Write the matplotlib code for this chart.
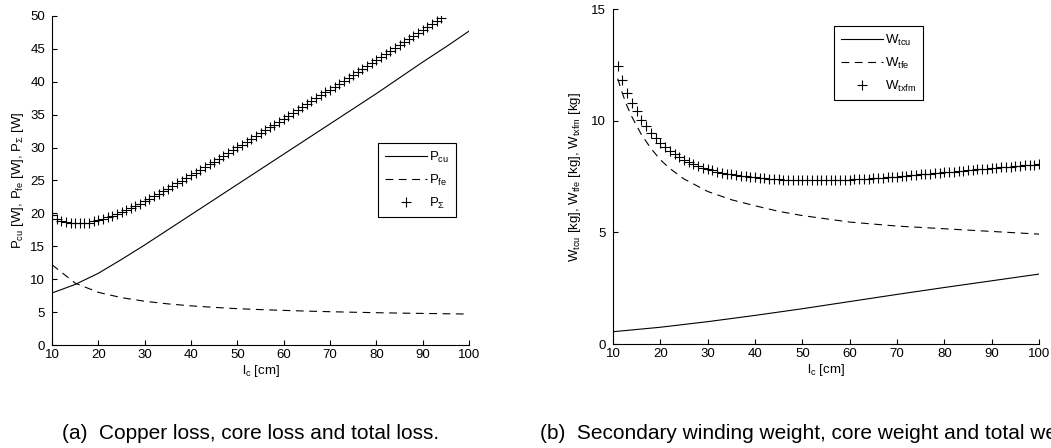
import numpy as np
import matplotlib
matplotlib.use("Agg")
import matplotlib.pyplot as plt

plt.rcParams['font.family'] = ['Liberation Sans', 'DejaVu Sans']
plt.rcParams['mathtext.fontset'] = 'custom'
plt.rcParams['mathtext.rm'] = 'Liberation Sans'
plt.rcParams['mathtext.it'] = 'Liberation Sans:italic'
plt.rcParams['mathtext.bf'] = 'Liberation Sans:bold'

# (a) losses vs core length
lc_line_a = [10, 15, 20, 25, 30, 35, 40, 45, 50, 55, 60, 65, 70, 75, 80, 85, 90, 95, 100]
p_cu = [7.9, 9.2, 10.9, 13.0, 15.2, 17.5, 19.8, 22.1, 24.4, 26.7, 29.0, 31.3,
        33.6, 35.9, 38.2, 40.6, 43.0, 45.3, 47.7]
p_fe = [12.2, 9.4, 8.0, 7.2, 6.65, 6.25, 5.95, 5.72, 5.52, 5.38, 5.26, 5.15,
        5.06, 4.98, 4.91, 4.85, 4.8, 4.75, 4.7]
lc_mark_a = list(range(10, 95))
p_sum = [19.7, 19.2, 18.9, 18.7, 18.6, 18.5, 18.5, 18.5, 18.6, 18.8,
         19.0, 19.15, 19.38, 19.63, 19.91, 20.2, 20.5, 20.83, 21.16, 21.49,
         21.85, 22.22, 22.6, 22.98, 23.38, 23.77, 24.16, 24.57, 24.97, 25.39,
         25.79, 26.2, 26.62, 27.04, 27.46, 27.88, 28.3, 28.73, 29.16, 29.59,
         30.02, 30.44, 30.88, 31.31, 31.75, 32.18, 32.62, 33.06, 33.5, 33.94,
         34.38, 34.82, 35.26, 35.7, 36.15, 36.59, 37.03, 37.48, 37.92, 38.38,
         38.82, 39.26, 39.72, 40.16, 40.62, 41.06, 41.51, 41.96, 42.41, 42.86,
         43.31, 43.76, 44.22, 44.66, 45.12, 45.57, 46.02, 46.48, 46.93, 47.39,
         47.84, 48.29, 48.75, 49.2, 49.66]

# (b) weights vs core length
lc_tcu = [10, 20, 30, 40, 50, 60, 70, 80, 90, 100]
w_tcu = [0.55, 0.75, 1.0, 1.28, 1.58, 1.9, 2.22, 2.53, 2.83, 3.13]
lc_tfe = [11, 12, 13, 14, 15, 16, 18, 20, 22, 25, 30, 35, 40, 45, 50, 60, 70, 80, 90, 100]
w_tfe = [11.88, 11.21, 10.64, 10.17, 9.77, 9.38, 8.76, 8.25, 7.86, 7.39, 6.83,
         6.46, 6.19, 5.94, 5.75, 5.46, 5.28, 5.16, 5.04, 4.92]
lc_mark_b = list(range(11, 101))
w_txfm = [12.45, 11.8, 11.25, 10.8, 10.42, 10.05, 9.75, 9.47, 9.22, 9.0,
          8.82, 8.66, 8.51, 8.38, 8.26, 8.15, 8.05, 7.96, 7.89, 7.83,
          7.77, 7.72, 7.67, 7.63, 7.6, 7.57, 7.54, 7.52, 7.49, 7.47,
          7.45, 7.43, 7.41, 7.39, 7.37, 7.36, 7.35, 7.34, 7.34, 7.33,
          7.33, 7.33, 7.33, 7.33, 7.33, 7.33, 7.34, 7.34, 7.35, 7.36,
          7.37, 7.38, 7.39, 7.41, 7.42, 7.44, 7.45, 7.47, 7.48, 7.5,
          7.52, 7.54, 7.56, 7.58, 7.6, 7.61, 7.63, 7.65, 7.67, 7.69,
          7.71, 7.72, 7.74, 7.76, 7.78, 7.8, 7.82, 7.83, 7.85, 7.87,
          7.89, 7.91, 7.93, 7.94, 7.96, 7.98, 8.0, 8.02, 8.03, 8.05]

W, H = 1051, 448
FS = 9.5
fig = plt.figure(figsize=(W / 100, H / 100), dpi=100)


def style_axes(ax):
    ax.spines['top'].set_visible(False)
    ax.spines['right'].set_visible(False)
    for s in ('left', 'bottom'):
        ax.spines[s].set_linewidth(0.8)
    ax.tick_params(direction='in', length=3.5, width=0.8, labelsize=FS, pad=3)
    ax.tick_params(axis='y', pad=5)
    ax.set_xlim(10, 100)
    ax.set_xticks(range(10, 101, 10))


def add_legend(ax, x, y):
    leg = ax.legend(loc='upper left', bbox_to_anchor=(x / W, 1 - y / H),
                    bbox_transform=fig.transFigure, fontsize=FS, fancybox=False,
                    edgecolor='k', framealpha=1, handlelength=3.2, labelspacing=0.6,
                    borderpad=0.5, handletextpad=0.2, borderaxespad=0)
    leg.get_frame().set_linewidth(0.8)
    return leg


ax1 = fig.add_axes([52 / W, 1 - 345 / H, 417 / W, 329 / H])
style_axes(ax1)
ax1.plot(lc_line_a, p_cu, 'k-', lw=0.8, label=r'P$_{\mathrm{cu}}$')
ax1.plot(lc_line_a, p_fe, 'k--', lw=0.8, dashes=(7, 5), label=r'P$_{\mathrm{fe}}$')
ax1.plot(lc_mark_a, p_sum, 'k+', ms=6.5, mew=0.8, label=r'P$_{\Sigma}$')
ax1.set_ylim(0, 50)
ax1.set_yticks(range(0, 51, 5))
ax1.set_xlabel(r'l$_{\mathrm{c}}$ [cm]', fontsize=FS, labelpad=1)
ax1.set_ylabel(r'P$_{\mathrm{cu}}$ [W], P$_{\mathrm{fe}}$ [W], P$_{\Sigma}$ [W]',
               fontsize=FS, labelpad=3)
add_legend(ax1, 378, 143)

ax2 = fig.add_axes([613 / W, 1 - 344 / H, 426 / W, 335 / H])
style_axes(ax2)
ax2.plot(lc_tcu, w_tcu, 'k-', lw=0.8, label=r'W$_{\mathrm{tcu}}$')
ax2.plot(lc_tfe, w_tfe, 'k--', lw=0.8, dashes=(7, 5), label=r'W$_{\mathrm{tfe}}$')
ax2.plot(lc_mark_b, w_txfm, 'k+', ms=6.5, mew=0.8, label=r'W$_{\mathrm{txfm}}$')
ax2.set_ylim(0, 15)
ax2.set_yticks([0, 5, 10, 15])
ax2.set_xlabel(r'l$_{\mathrm{c}}$ [cm]', fontsize=FS, labelpad=1)
ax2.set_ylabel(r'W$_{\mathrm{tcu}}$ [kg], W$_{\mathrm{tfe}}$ [kg], W$_{\mathrm{txfm}}$ [kg]',
               fontsize=FS, labelpad=6)
add_legend(ax2, 834, 26)

fig.text(62 / W, 1 - 439 / H, '(a)  Copper loss, core loss and total loss.',
         fontsize=15, va='baseline', ha='left')
fig.text(540 / W, 1 - 439 / H,
         '(b)  Secondary winding weight, core weight and total weight.',
         fontsize=15, va='baseline', ha='left')

fig.savefig('out.png', dpi=100)
